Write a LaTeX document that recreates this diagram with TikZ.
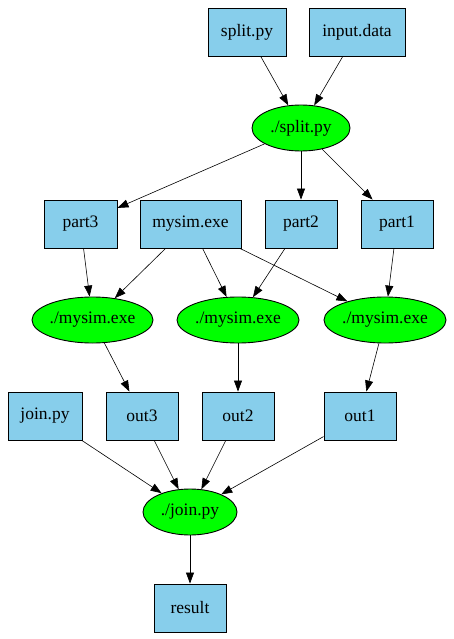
\documentclass[tikz,border=0pt]{standalone}
\usepackage{fontspec}
\setmainfont{Liberation Serif}
\usetikzlibrary{shapes.geometric,arrows.meta}
\definecolor{skyb}{HTML}{87CEEB}
\definecolor{gvgreen}{HTML}{00FF00}
\begin{document}
\begin{tikzpicture}[x=1pt,y=-1pt,
  filebox/.style={draw=black,fill=skyb,rectangle,minimum height=48pt,inner sep=0pt,line width=0.9pt,font=\fontsize{17.5}{20}\selectfont},
  proc/.style={draw=black,fill=gvgreen,ellipse,minimum height=46pt,inner sep=0pt,line width=0.9pt,font=\fontsize{17.5}{20}\selectfont},
  edge/.style={draw=black,line width=0.6pt,-{Triangle[length=11pt,width=8pt]}}]
\useasboundingbox (0,0) rectangle (454,639);
\node[filebox,minimum width=78pt] (splitpy) at (247,32) {split.py};
\node[filebox,minimum width=96pt] (input) at (357,32) {input.data};
\node[proc,minimum width=98pt] (splitp) at (301,128) {./split.py};
\node[filebox,minimum width=73pt] (part3) at (80.5,224) {part3};
\node[filebox,minimum width=101pt] (mysim) at (190.5,224) {mysim.exe};
\node[filebox,minimum width=72pt] (part2) at (301,224) {part2};
\node[filebox,minimum width=72pt] (part1) at (397,224) {part1};
\node[proc,minimum width=121pt] (m1) at (92.5,320) {./mysim.exe};
\node[proc,minimum width=122pt] (m2) at (238,320) {./mysim.exe};
\node[proc,minimum width=122pt] (m3) at (385,320) {./mysim.exe};
\node[filebox,minimum width=74pt] (joinpy) at (45,416) {join.py};
\node[filebox,minimum width=72pt] (out3) at (142,416) {out3};
\node[filebox,minimum width=72pt] (out2) at (238,416) {out2};
\node[filebox,minimum width=72pt] (out1) at (360,416) {out1};
\node[proc,minimum width=94pt] (joinp) at (190,512) {./join.py};
\node[filebox,minimum width=72pt] (result) at (190,608) {result};
\draw[edge] (splitpy) -- (splitp);
\draw[edge] (input) -- (splitp);
\draw[edge] (splitp) -- (part3);
\draw[edge] (splitp) -- (part2);
\draw[edge] (splitp) -- (part1);
\draw[edge] (part3) -- (m1);
\draw[edge] (mysim) -- (m1);
\draw[edge] (mysim) -- (m2);
\draw[edge] (mysim) -- (m3);
\draw[edge] (part2) -- (m2);
\draw[edge] (part1) -- (m3);
\draw[edge] (m1) -- (out3);
\draw[edge] (m2) -- (out2);
\draw[edge] (m3) -- (out1);
\draw[edge] (joinpy) -- (joinp);
\draw[edge] (out3) -- (joinp);
\draw[edge] (out2) -- (joinp);
\draw[edge] (out1) -- (joinp);
\draw[edge] (joinp) -- (result);
\end{tikzpicture}
\end{document}
